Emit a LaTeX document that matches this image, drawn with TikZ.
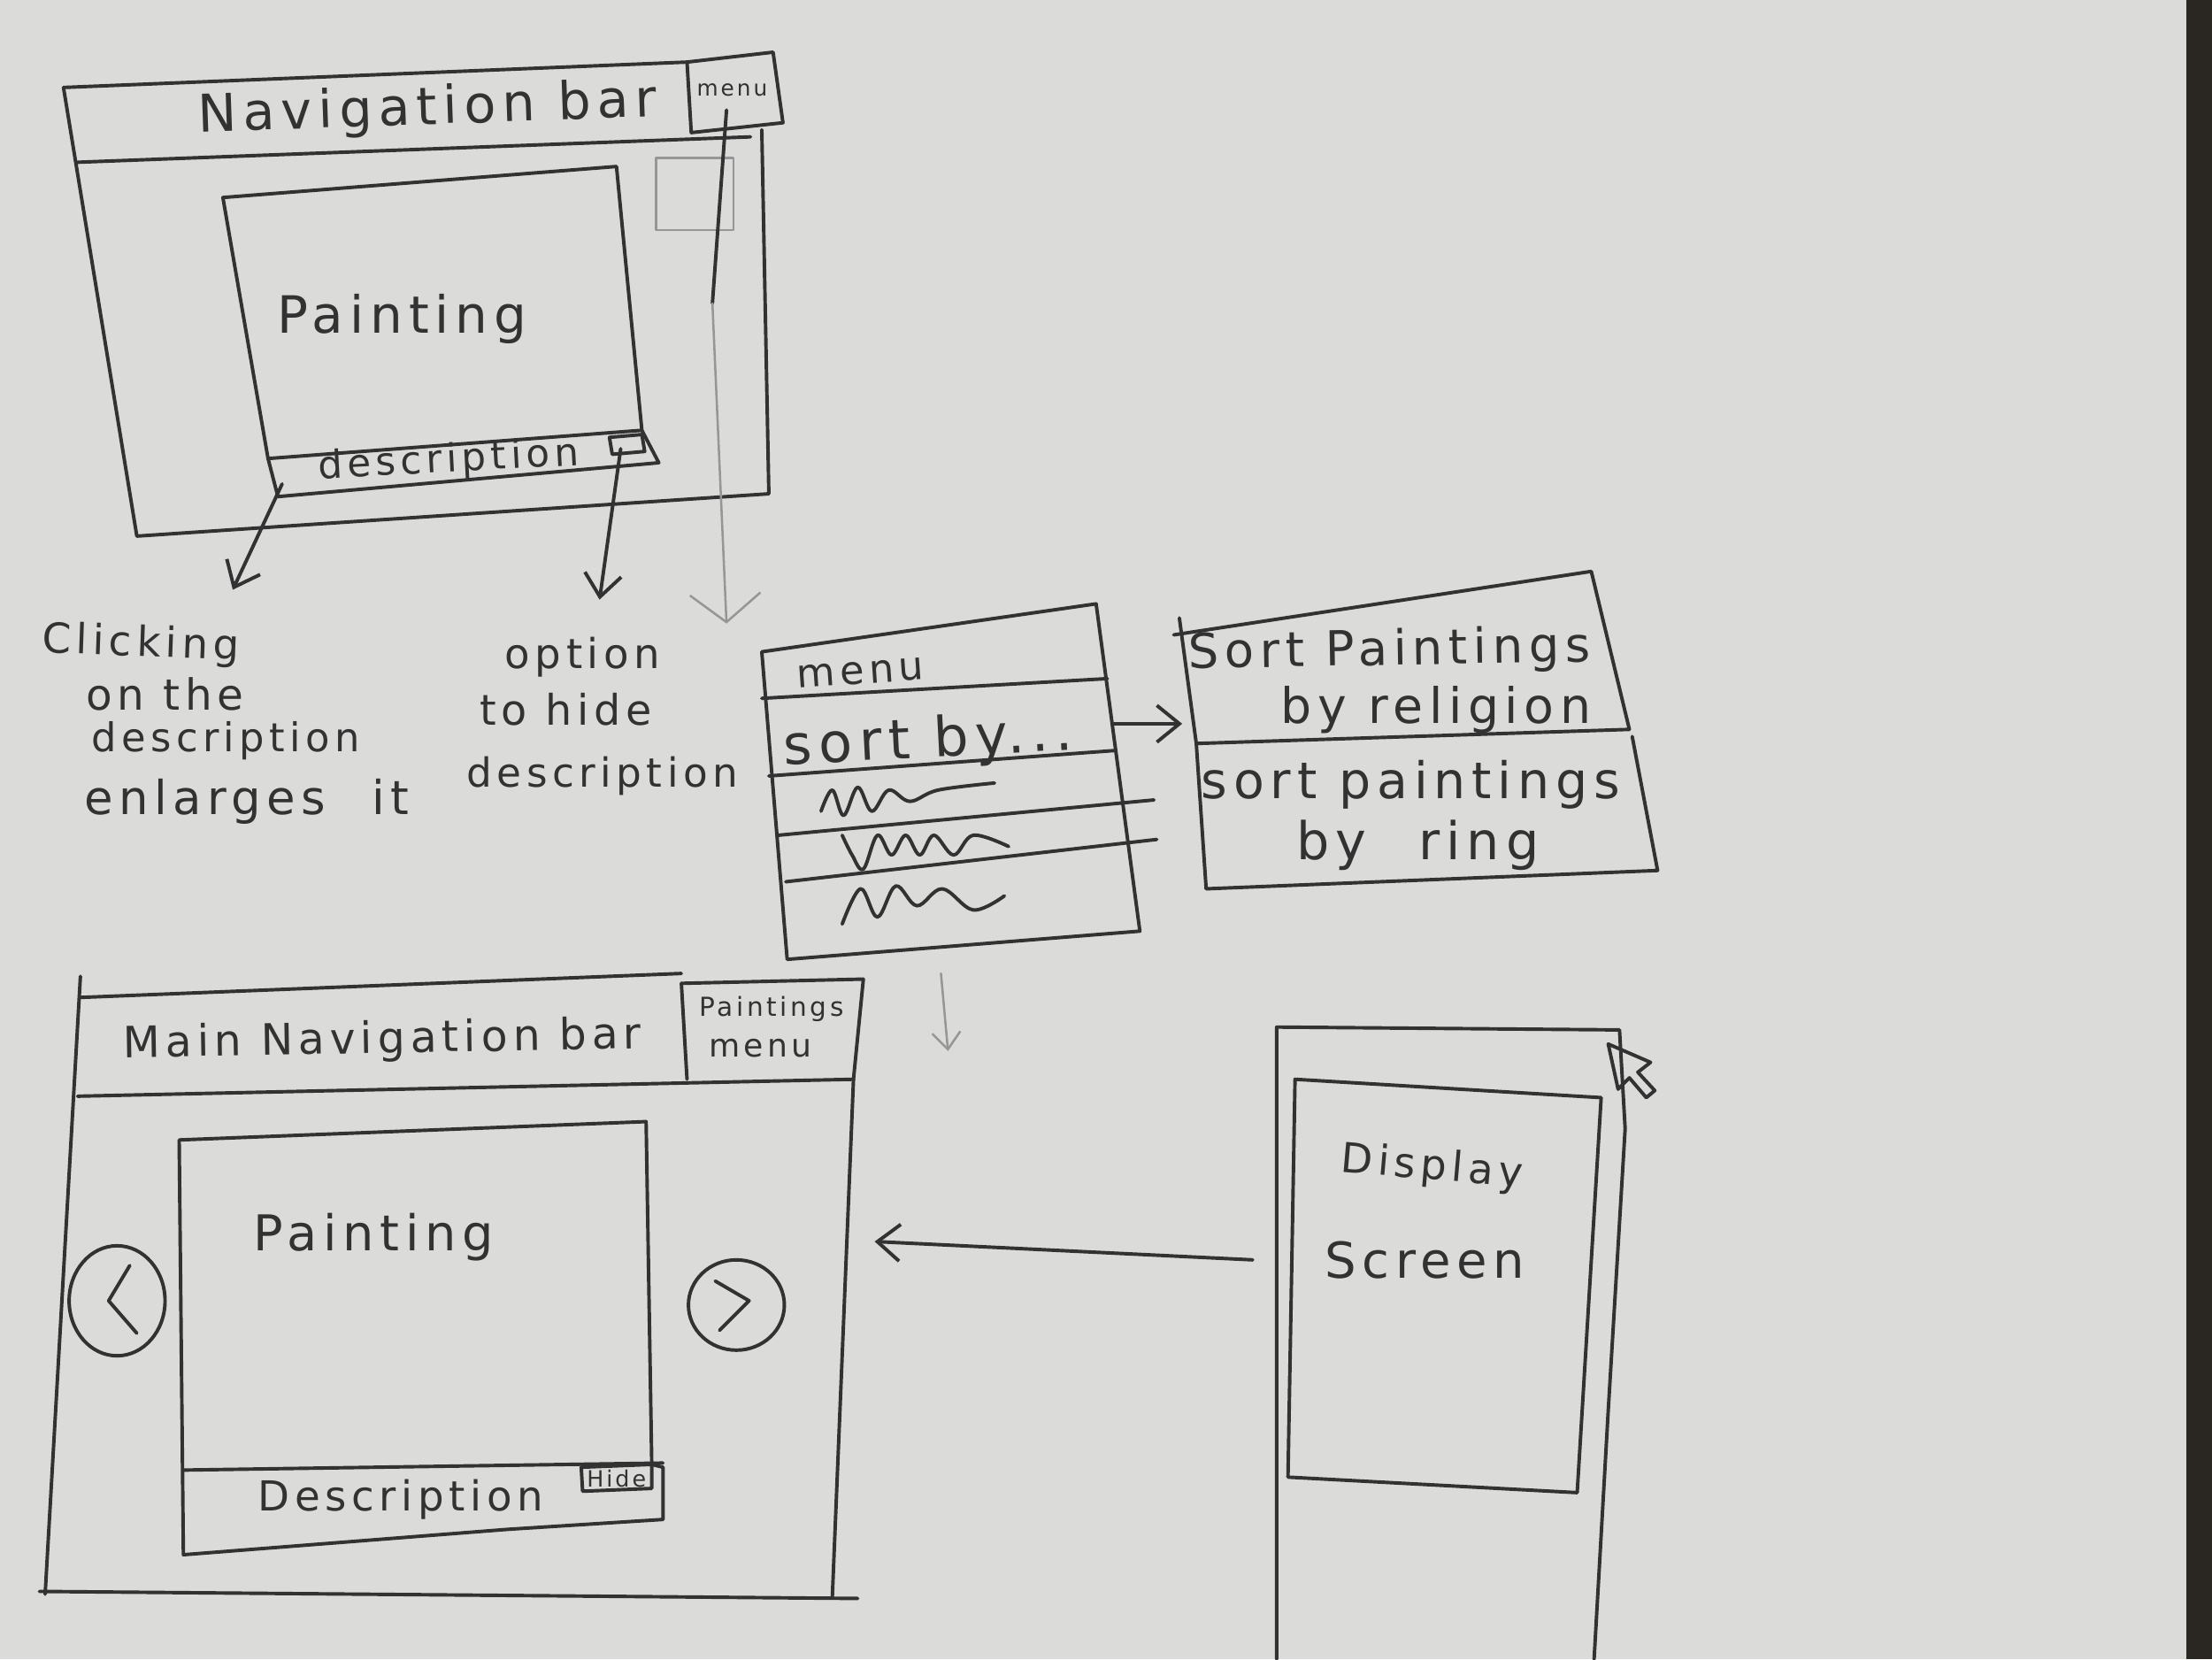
\documentclass[tikz,border=0pt]{standalone}
\usepackage{fontspec}
\usepackage{graphicx}
\usetikzlibrary{arrows.meta}
\newfontfamily\handfont[LetterSpace=12]{DejaVu Sans}
\definecolor{paper}{RGB}{219,219,217}
\definecolor{pencil}{RGB}{50,50,50}
\definecolor{faint}{RGB}{150,150,150}
\definecolor{tabletop}{RGB}{42,38,34}
\newcommand\hw[2]{\resizebox{#1}{!}{\handfont #2}}
\tikzset{
  sk/.style={draw=pencil, line width=0.7pt, line join=round, line cap=round},
  fk/.style={draw=faint, line width=0.45pt, line join=round, line cap=round},
  lbl/.style={inner sep=0pt, text=pencil},
  arr/.style={sk, -{Straight Barb[length=1.6mm,width=2.6mm]}},
  widearr/.style={fk, -{Straight Barb[length=2mm,width=5mm]}},
}
\begin{document}
\begin{tikzpicture}[x=0.1mm,y=-0.1mm]
\fill[paper] (0,0) rectangle (1568,1176);
\fill[tabletop] (1550,0) rectangle (1568,1176);
\useasboundingbox (0,0) rectangle (1568,1176);

% ---------- top-left wireframe ----------
\draw[sk] (45,62) -- (487,44);
\draw[sk] (45,62) -- (97,380) -- (545,350) -- (540,92);
\draw[sk] (487,44) -- (548,37) -- (555,87) -- (490,94) -- cycle;
\draw[sk] (55,115) -- (532,97);
\draw[fk] (465,112) rectangle (520,163);
\draw[sk] (158,140) -- (437,118) -- (455,305) -- (467,328) -- (197,352) -- (190,325) -- cycle;
\draw[sk] (190,325) -- (455,305);
\draw[sk] (432,310) -- (455,308) -- (457,320) -- (434,322) -- cycle;

\node[lbl, rotate=2] (navA) at (303,78) {\hw{32.5mm}{Navigation bar}};
\node[lbl] (menuA) at (519,64) {\hw{5mm}{menu}};
\node[lbl] (paintA) at (285,226) {\hw{17.7mm}{Painting}};
\node[lbl, rotate=3] (descA) at (318,327) {\hw{18.5mm}{description}};

% annotations
\node[lbl, rotate=-2] (c1) at (100,457) {\hw{14mm}{Clicking}};
\node[lbl] (c2) at (117,492) {\hw{11.2mm}{on the}};
\node[lbl] (c3) at (160,525) {\hw{19mm}{description}};
\node[lbl] (c4) at (175,568) {\hw{23mm}{enlarges\quad it}};
\node[lbl] (o1) at (413,466) {\hw{11mm}{option}};
\node[lbl] (o2) at (401,503) {\hw{12.2mm}{to hide}};
\node[lbl] (o3) at (427,550) {\hw{19.2mm}{description}};

\coordinate (a1s) at (200,343);
\coordinate (a1e) at (165,418);
\coordinate (a2s) at (440,318);
\coordinate (a2e) at (425,425);
\coordinate (a3s) at (515,78);
\coordinate (a3m) at (505,215);
\coordinate (a3e) at (515,442);
\draw[arr] (a1s) -- (a1e);
\draw[arr] (a2s) -- (a2e);
\draw[sk] (a3s) -- (a3m);
\draw[widearr] (a3m) -- (a3e);

% ---------- menu list ----------
\draw[sk] (540,462) -- (777,428) -- (808,660) -- (558,680) -- cycle;
\draw[sk] (540,495) -- (785,481);
\draw[sk] (545,550) -- (790,532);
\draw[sk] (552,592) -- (818,567);
\draw[sk] (557,625) -- (820,595);
\node[lbl, rotate=4] (menuB) at (610,477) {\hw{9mm}{menu}};
\node[lbl, rotate=3] (sortby) at (658,526) {\hw{20.5mm}{sort by...}};
\draw[sk] plot[smooth, tension=0.6] coordinates {(582,575) (590,560) (598,578) (608,558) (618,575) (630,560) (645,568) (665,560) (705,555)};
\draw[sk] plot[smooth, tension=0.6] coordinates {(597,592) (604,606) (612,616) (622,592) (632,606) (642,592) (652,606) (662,592) (676,606) (690,592) (715,600)};
\draw[sk] plot[smooth, tension=0.6] coordinates {(597,655) (610,630) (622,650) (635,628) (650,642) (668,630) (690,645) (712,635)};

\coordinate (s1) at (790,513);
\coordinate (s2) at (838,513);
\draw[arr] (s1) -- (s2);
\coordinate (f1) at (667,690);
\coordinate (f2) at (672,745);
\draw[fk, -{Straight Barb[length=1.2mm,width=2mm]}] (f1) -- (f2);

% ---------- sort options ----------
\draw[sk] (832,450) -- (1128,405) -- (1155,517);
\draw[sk] (848,527) -- (1155,517);
\draw[sk] (836,438) -- (848,527) -- (855,630) -- (1175,617) -- (1157,522);
\node[lbl, rotate=1] (sp1) at (985,462) {\hw{28.5mm}{Sort Paintings}};
\node[lbl] (sp2) at (1018,503) {\hw{22mm}{by religion}};
\node[lbl] (sp3) at (1000,556) {\hw{29.7mm}{sort paintings}};
\node[lbl] (sp4) at (1005,599) {\hw{17.2mm}{by\quad ring}};

% ---------- bottom-left wireframe ----------
\draw[sk] (57,707) -- (483,690);
\draw[sk] (57,692) -- (32,1130);
\draw[sk] (28,1128) -- (608,1133);
\draw[sk] (483,697) -- (612,694) -- (605,765) -- (590,1132);
\draw[sk] (483,697) -- (487,765);
\draw[sk] (55,777) -- (605,765);
\draw[sk] (127,808) -- (458,795) -- (462,1038) -- (470,1040) -- (470,1077) -- (360,1084) -- (130,1102) -- cycle;
\draw[sk] (130,1042) -- (470,1037);
\draw[sk] (412,1040) -- (462,1038) -- (462,1055) -- (413,1057) -- cycle;
\draw[sk] (83,922) ellipse[x radius=34, y radius=39];
\draw[sk] (522,925) ellipse[x radius=34, y radius=32];
\draw[sk] (92,897) -- (77,922) -- (97,945);
\draw[sk] (507,908) -- (531,922) -- (510,943);

\node[lbl, rotate=1] (navD) at (271,738) {\hw{36.7mm}{Main Navigation bar}};
\node[lbl] (pmenu1) at (547,715) {\hw{10.2mm}{Paintings}};
\node[lbl] (pmenu2) at (539,743) {\hw{7.3mm}{menu}};
\node[lbl] (paintD) at (265,877) {\hw{17mm}{Painting}};
\node[lbl] (descD) at (284,1063) {\hw{20.2mm}{Description}};
\node[lbl] (hideD) at (437,1048) {\hw{4.2mm}{Hide}};

% ---------- display screen ----------
\draw[sk] (905,1176) -- (905,728) -- (1148,730) -- (1152,800) -- (1140,1000) -- (1130,1176);
\draw[sk] (918,765) -- (1135,778) -- (1118,1058) -- (913,1047) -- cycle;
\node[lbl, rotate=-5] (disp) at (1015,828) {\hw{12.9mm}{Display}};
\node[lbl] (scr) at (1010,893) {\hw{14.2mm}{Screen}};
\draw[sk] (1140,740) -- (1147,772) -- (1155,764) -- (1167,778) -- (1173,773) -- (1161,760) -- (1170,753) -- cycle;

\coordinate (e1) at (888,893);
\coordinate (e2) at (620,880);
\draw[arr] (e1) -- (e2);
\end{tikzpicture}
\end{document}
